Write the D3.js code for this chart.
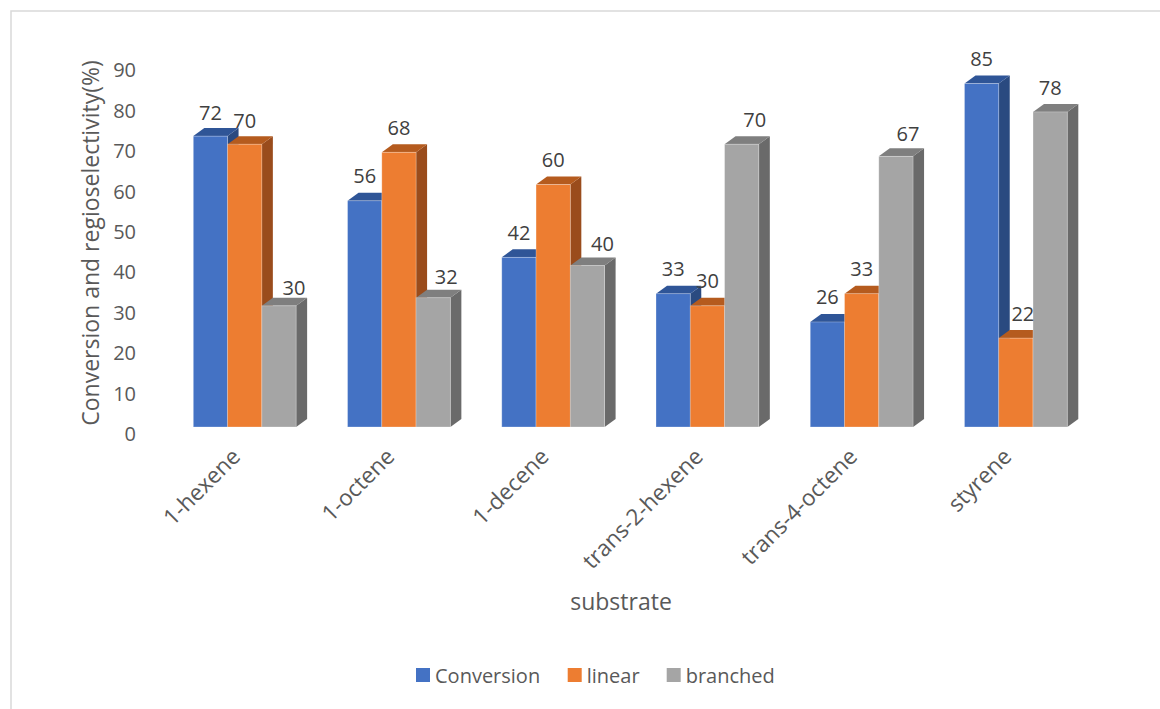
<!DOCTYPE html>
<html>
<head>
<meta charset="utf-8">
<script src="https://cdn.jsdelivr.net/npm/d3@7"></script>
<style>
  html, body { margin: 0; padding: 0; background: #fff; }
  svg { display: block; font-family: "Open Sans", sans-serif; }
</style>
</head>
<body>
<svg id="chart" width="1160" height="709"></svg>
<script>
// Substrates and the three measured series (%)
const categories = ["1-hexene", "1-octene", "1-decene", "trans-2-hexene", "trans-4-octene", "styrene"];
const conversion = [72, 56, 42, 33, 26, 85];
const linear = [70, 68, 60, 30, 33, 22];
const branched = [30, 32, 40, 70, 67, 78];
const seriesNames = ["Conversion", "linear", "branched"];
const yTicks = [0, 10, 20, 30, 40, 50, 60, 70, 80, 90];

// Face shading for each series: front, top, side
const palette = [
  { front: "#4472C4", top: "#2F5597", side: "#2A4A80" },
  { front: "#ED7D31", top: "#B55B1E", side: "#9A4C1C" },
  { front: "#A5A5A5", top: "#7F7F7F", side: "#6A6A6A" }
];

// Label nudges [dx, dy] per category and series, so labels clear neighbouring columns
const labelNudge = [
  [[0, 1], [0, 1], [15, 7]],
  [[0, 0], [0, 0], [13, 4]],
  [[0, 0], [0, 0], [15, 3]],
  [[0, 0], [0, 0], [13, 0]],
  [[0, 0], [0, 0], [12, 2]],
  [[0, 0], [7, 0], [0, 1]]
];

const svg = d3.select("#chart");
const series = [conversion, linear, branched];

// Outer chart frame
svg.append("rect")
  .attr("x", 11).attr("y", 11)
  .attr("width", 1300).attr("height", 900)
  .attr("fill", "none").attr("stroke", "#d9d9d9").attr("stroke-width", 1.5);

const y = d3.scaleLinear().domain([0, 90]).range([427, 427 - 90 * 4.04]);
const x = d3.scaleBand().domain(categories).range([167.6, 1093]).padding(0);
const bw = x.bandwidth() / 4.5;      // gap width 150% of a bar
const depthX = 11, depthY = 8;       // oblique depth of the columns

// Y tick labels
svg.append("g").selectAll("text")
  .data(yTicks).join("text")
  .attr("x", 136)
  .attr("y", d => y(d) + 6.5)
  .attr("text-anchor", "end")
  .attr("dominant-baseline", "central")
  .attr("fill", "#595959")
  .attr("font-size", 20)
  .text(d => d);

// Columns
const bars = svg.append("g");
categories.forEach((c, ci) => {
  series.forEach((vals, si) => {
    const v = vals[ci];
    const x0 = x(c) + 0.75 * bw + si * bw;
    const x1 = x0 + bw;
    const yt = y(v), yb = y(0);
    const col = palette[si];
    const g = bars.append("g");
    // side face
    g.append("path")
      .attr("d", `M${x1},${yb}L${x1 + depthX},${yb - depthY}L${x1 + depthX},${yt - depthY}L${x1},${yt}Z`)
      .attr("fill", col.side);
    // top face
    g.append("path")
      .attr("d", `M${x0},${yt}L${x1},${yt}L${x1 + depthX},${yt - depthY}L${x0 + depthX},${yt - depthY}Z`)
      .attr("fill", col.top);
    // front face
    g.append("rect")
      .attr("x", x0).attr("y", yt)
      .attr("width", bw).attr("height", yb - yt)
      .attr("fill", col.front)
      .attr("stroke", "rgba(255,255,255,0.35)")
      .attr("stroke-width", 0.8);
  });
});

// Value labels above each column
const labels = svg.append("g");
categories.forEach((c, ci) => {
  series.forEach((vals, si) => {
    const v = vals[ci];
    const [ndx, ndy] = labelNudge[ci][si];
    const cx = x(c) + 0.75 * bw + si * bw + bw / 2;
    labels.append("text")
      .attr("x", cx + ndx)
      .attr("y", y(v) - depthY - 17 + ndy)
      .attr("text-anchor", "middle")
      .attr("dominant-baseline", "central")
      .attr("fill", "#404040")
      .attr("font-size", 20)
      .text(v);
  });
});

// Category labels, rotated
svg.append("g").selectAll("text")
  .data(categories).join("text")
  .attr("transform", d => `translate(${x(d) + x.bandwidth() / 2 - 3},${458}) rotate(-45)`)
  .attr("text-anchor", "end")
  .attr("fill", "#595959")
  .attr("font-size", 22.5)
  .text(d => d);

// Axis titles
svg.append("text")
  .attr("transform", "translate(90,243) rotate(-90)")
  .attr("text-anchor", "middle")
  .attr("dominant-baseline", "central")
  .attr("fill", "#595959")
  .attr("font-size", 23)
  .text("Conversion and regioselectivity(%)");

svg.append("text")
  .attr("x", 621).attr("y", 601)
  .attr("text-anchor", "middle")
  .attr("dominant-baseline", "central")
  .attr("fill", "#595959")
  .attr("font-size", 23)
  .text("substrate");

// Legend
const legendX = [416, 567.7, 666.7];
const legend = svg.append("g");
seriesNames.forEach((name, i) => {
  legend.append("rect")
    .attr("x", legendX[i]).attr("y", 668)
    .attr("width", 14).attr("height", 14)
    .attr("fill", palette[i].front);
  legend.append("text")
    .attr("x", legendX[i] + 19).attr("y", 675)
    .attr("dominant-baseline", "central")
    .attr("fill", "#595959")
    .attr("font-size", 20)
    .text(name);
});
</script>
</body>
</html>
